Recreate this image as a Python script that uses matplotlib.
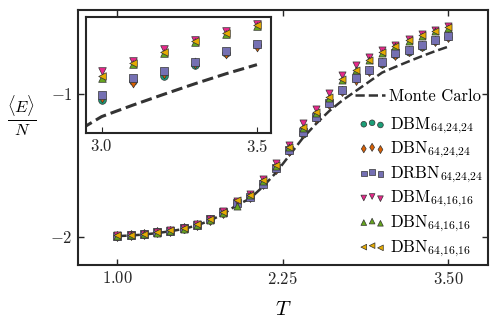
import numpy as np
import matplotlib
matplotlib.use("Agg")
import matplotlib.pyplot as plt

plt.rcParams['font.family'] = 'serif'
plt.rcParams['font.serif'] = ['cmr10', 'DejaVu Serif']
plt.rcParams['mathtext.fontset'] = 'cm'
plt.rcParams['axes.unicode_minus'] = False

T = [1.0, 1.1, 1.2, 1.3, 1.4, 1.5, 1.6, 1.7, 1.8, 1.9, 2.0, 2.1, 2.2,
     2.3, 2.4, 2.5, 2.6, 2.7, 2.8, 2.9, 3.0, 3.1, 3.2, 3.3, 3.4, 3.5]

mc = [-1.997, -1.993, -1.986, -1.976, -1.963, -1.947, -1.922, -1.888, -1.842,
      -1.781, -1.735, -1.65, -1.55, -1.43, -1.31, -1.21, -1.12, -1.045, -0.98,
      -0.915, -0.85, -0.81, -0.772, -0.735, -0.70, -0.668]

dbm24 = [-1.994, -1.988, -1.981, -1.971, -1.959, -1.944, -1.918, -1.882, -1.832,
         -1.768, -1.722, -1.633, -1.525, -1.40, -1.278, -1.172, -1.07, -0.98,
         -0.897, -0.842, -0.792, -0.725, -0.707, -0.668, -0.628, -0.60]
dbn24 = [-1.993, -1.987, -1.98, -1.97, -1.958, -1.943, -1.917, -1.882, -1.833,
         -1.77, -1.724, -1.635, -1.527, -1.402, -1.277, -1.17, -1.068, -0.978,
         -0.90, -0.838, -0.782, -0.728, -0.696, -0.662, -0.626, -0.602]
drbn24 = [-1.993, -1.987, -1.98, -1.97, -1.958, -1.943, -1.916, -1.88, -1.83,
          -1.763, -1.72, -1.63, -1.52, -1.395, -1.27, -1.165, -1.062, -0.972,
          -0.89, -0.832, -0.775, -0.715, -0.69, -0.657, -0.62, -0.594]
dbm16 = [-1.992, -1.986, -1.979, -1.969, -1.956, -1.94, -1.912, -1.874, -1.822,
         -1.752, -1.70, -1.60, -1.487, -1.357, -1.205, -1.105, -0.993, -0.867,
         -0.80, -0.74, -0.689, -0.655, -0.612, -0.58, -0.55, -0.525]
dbn16a = [-1.994, -1.988, -1.981, -1.972, -1.96, -1.945, -1.92, -1.886, -1.838,
          -1.788, -1.712, -1.612, -1.505, -1.375, -1.24, -1.135, -1.025, -0.90,
          -0.835, -0.765, -0.714, -0.667, -0.628, -0.59, -0.561, -0.534]
dbn16b = [-1.992, -1.986, -1.979, -1.969, -1.957, -1.942, -1.914, -1.877, -1.826,
          -1.741, -1.706, -1.606, -1.50, -1.37, -1.235, -1.13, -1.02, -0.895,
          -0.83, -0.76, -0.709, -0.662, -0.623, -0.586, -0.557, -0.53]

series = [
    (dbm24, 'o', '#1b9e77', r'DBM$_{64{,}24{,}24}$'),
    (dbn24, 'd', '#d95f02', r'DBN$_{64{,}24{,}24}$'),
    (drbn24, 's', '#7570b3', r'DRBN$_{64{,}24{,}24}$'),
    (dbm16, 'v', '#e7298a', r'DBM$_{64{,}16{,}16}$'),
    (dbn16a, '^', '#66a61e', r'DBN$_{64{,}16{,}16}$'),
    (dbn16b, '<', '#e6ab02', r'DBN$_{64{,}16{,}16}$'),
]

fig = plt.figure(figsize=(4.98, 3.28), dpi=100)
ax = fig.add_axes([0.156, 0.192, 0.824, 0.778])

mc_line, = ax.plot(T, mc, '--', color='#333333', lw=1.8, label='Monte Carlo')
pts = []
for y, m, c, lab in series:
    pts.append(ax.scatter(T, y, marker=m, s=26, c=c, edgecolors='#333333',
                          linewidths=0.5, label=lab, zorder=3))

ax.set_xlim(0.7, 3.8)
ax.set_ylim(-2.2, -0.41)
ax.set_xticks([1.0, 2.25, 3.5])
ax.set_xticklabels(['$1.00$', '$2.25$', '$3.50$'])
ax.set_yticks([-2, -1])
ax.set_yticklabels(['$-2$', '$-1$'])
ax.tick_params(direction='in', top=True, right=True, length=4,
               labelsize=12, width=1, colors='#262626')
for sp in ax.spines.values():
    sp.set_linewidth(1.5)
    sp.set_color('#262626')
ax.set_xlabel('$T$', fontsize=15)
ax.set_ylabel(r'$\frac{\langle E\rangle}{N}$', fontsize=17, rotation=0)
ax.yaxis.set_label_coords(-0.137, 0.498)
ax.xaxis.set_label_coords(0.5, -0.14)

leg1 = ax.legend(handles=[mc_line], loc='upper left',
                 bbox_to_anchor=(0.676, 0.69), frameon=False, fontsize=12,
                 handlelength=1.8, handletextpad=0.25, borderpad=0,
                 borderaxespad=0)
ax.add_artist(leg1)
ax.legend(handles=pts, loc='upper left', bbox_to_anchor=(0.685, 0.587),
          frameon=False, scatterpoints=3, fontsize=12, labelspacing=0.25,
          handlelength=1.6, handletextpad=0.25, borderpad=0, borderaxespad=0,
          markerscale=0.8)

ins = fig.add_axes([0.173, 0.595, 0.371, 0.354])
ins.plot(T, mc, '--', color='#333333', lw=2.2)
for y, m, c, lab in series:
    ins.scatter(T, y, marker=m, s=30, c=c, edgecolors='#333333',
                linewidths=0.5, zorder=3)
ins.set_xlim(2.95, 3.545)
ins.set_ylim(-0.907, -0.50)
ins.set_xticks([3.0, 3.5])
ins.set_xticklabels(['$3.0$', '$3.5$'])
ins.set_yticks([])
ins.tick_params(direction='in', length=4, labelsize=12, colors='#262626')
for sp in ins.spines.values():
    sp.set_linewidth(1.5)
    sp.set_color('#262626')

fig.savefig('out.png', dpi=100)
